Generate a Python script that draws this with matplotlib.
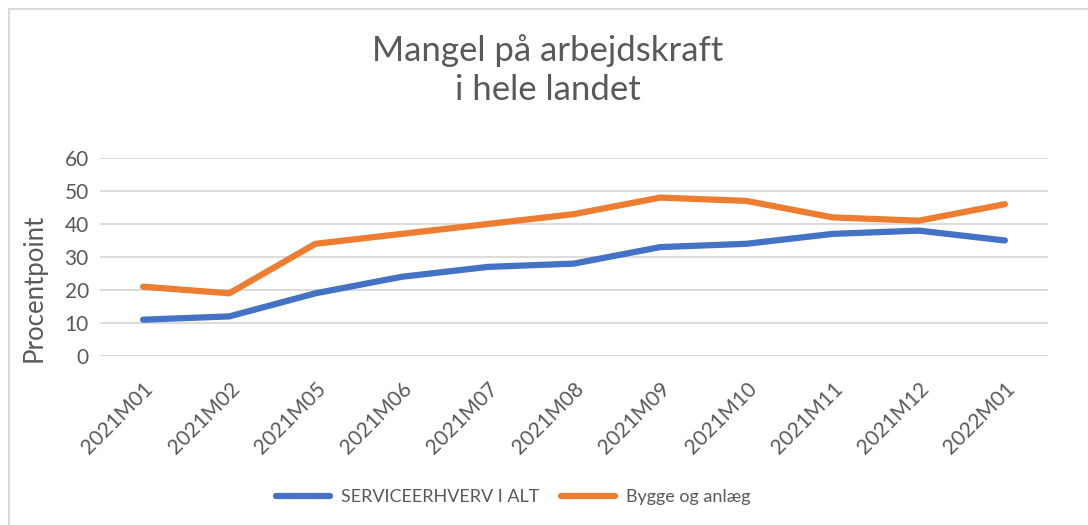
import matplotlib
matplotlib.use("Agg")
import matplotlib.pyplot as plt
from matplotlib.patches import Rectangle

plt.rcParams["font.family"] = ["Lato", "DejaVu Sans"]

months = ["2021M01", "2021M02", "2021M05", "2021M06", "2021M07", "2021M08",
          "2021M09", "2021M10", "2021M11", "2021M12", "2022M01"]
service = [11, 12, 19, 24, 27, 28, 33, 34, 37, 38, 35]
bygge = [21, 19, 34, 37, 40, 43, 48, 47, 42, 41, 46]

TEXT = "#595959"
GRID = "#d9d9d9"

fig = plt.figure(figsize=(10.88, 5.25), dpi=100)
ax = fig.add_axes([100 / 1088, 1 - 356 / 525, 948 / 1088, 198 / 525])

x = range(len(months))
ax.plot(x, service, color="#4472c4", lw=4.5, solid_capstyle="round",
        label="SERVICEERHVERV I ALT")
ax.plot(x, bygge, color="#ed7d31", lw=4.5, solid_capstyle="round",
        label="Bygge og anlæg")

ax.set_xlim(-0.5, len(months) - 0.5)
ax.set_ylim(0, 60)
ax.set_yticks(range(0, 61, 10))
ax.set_xticks(list(x))
ax.set_xticklabels(months, rotation=45, ha="right", rotation_mode="anchor")
ax.tick_params(length=0, colors=TEXT, labelsize=15)
ax.tick_params(axis="y", pad=8)
ax.tick_params(axis="x", pad=16)
ax.grid(axis="y", color=GRID, lw=1.3)
ax.set_axisbelow(True)
for s in ax.spines.values():
    s.set_visible(False)

ax.set_ylabel("Procentpoint", color=TEXT, fontsize=18.5)
ax.yaxis.set_label_coords(-0.056, 0.345)

fig.text(548 / 1088, 1 - 70 / 525, "Mangel på arbejdskraft\ni hele landet",
         ha="center", va="center", fontsize=25, color=TEXT, linespacing=1.3)

fig.legend(loc="center", bbox_to_anchor=(513 / 1088, 1 - 497 / 525),
           ncol=2, frameon=False, fontsize=13, labelcolor=TEXT,
           handlelength=3.0, handletextpad=0.6, columnspacing=1.2)

fig.patches.append(Rectangle((9 / 1088, -0.01), 1.1, 1 - 9 / 525 + 0.01,
                             transform=fig.transFigure, fill=False,
                             edgecolor=GRID, lw=1.5))

fig.savefig("out.png", dpi=100)
